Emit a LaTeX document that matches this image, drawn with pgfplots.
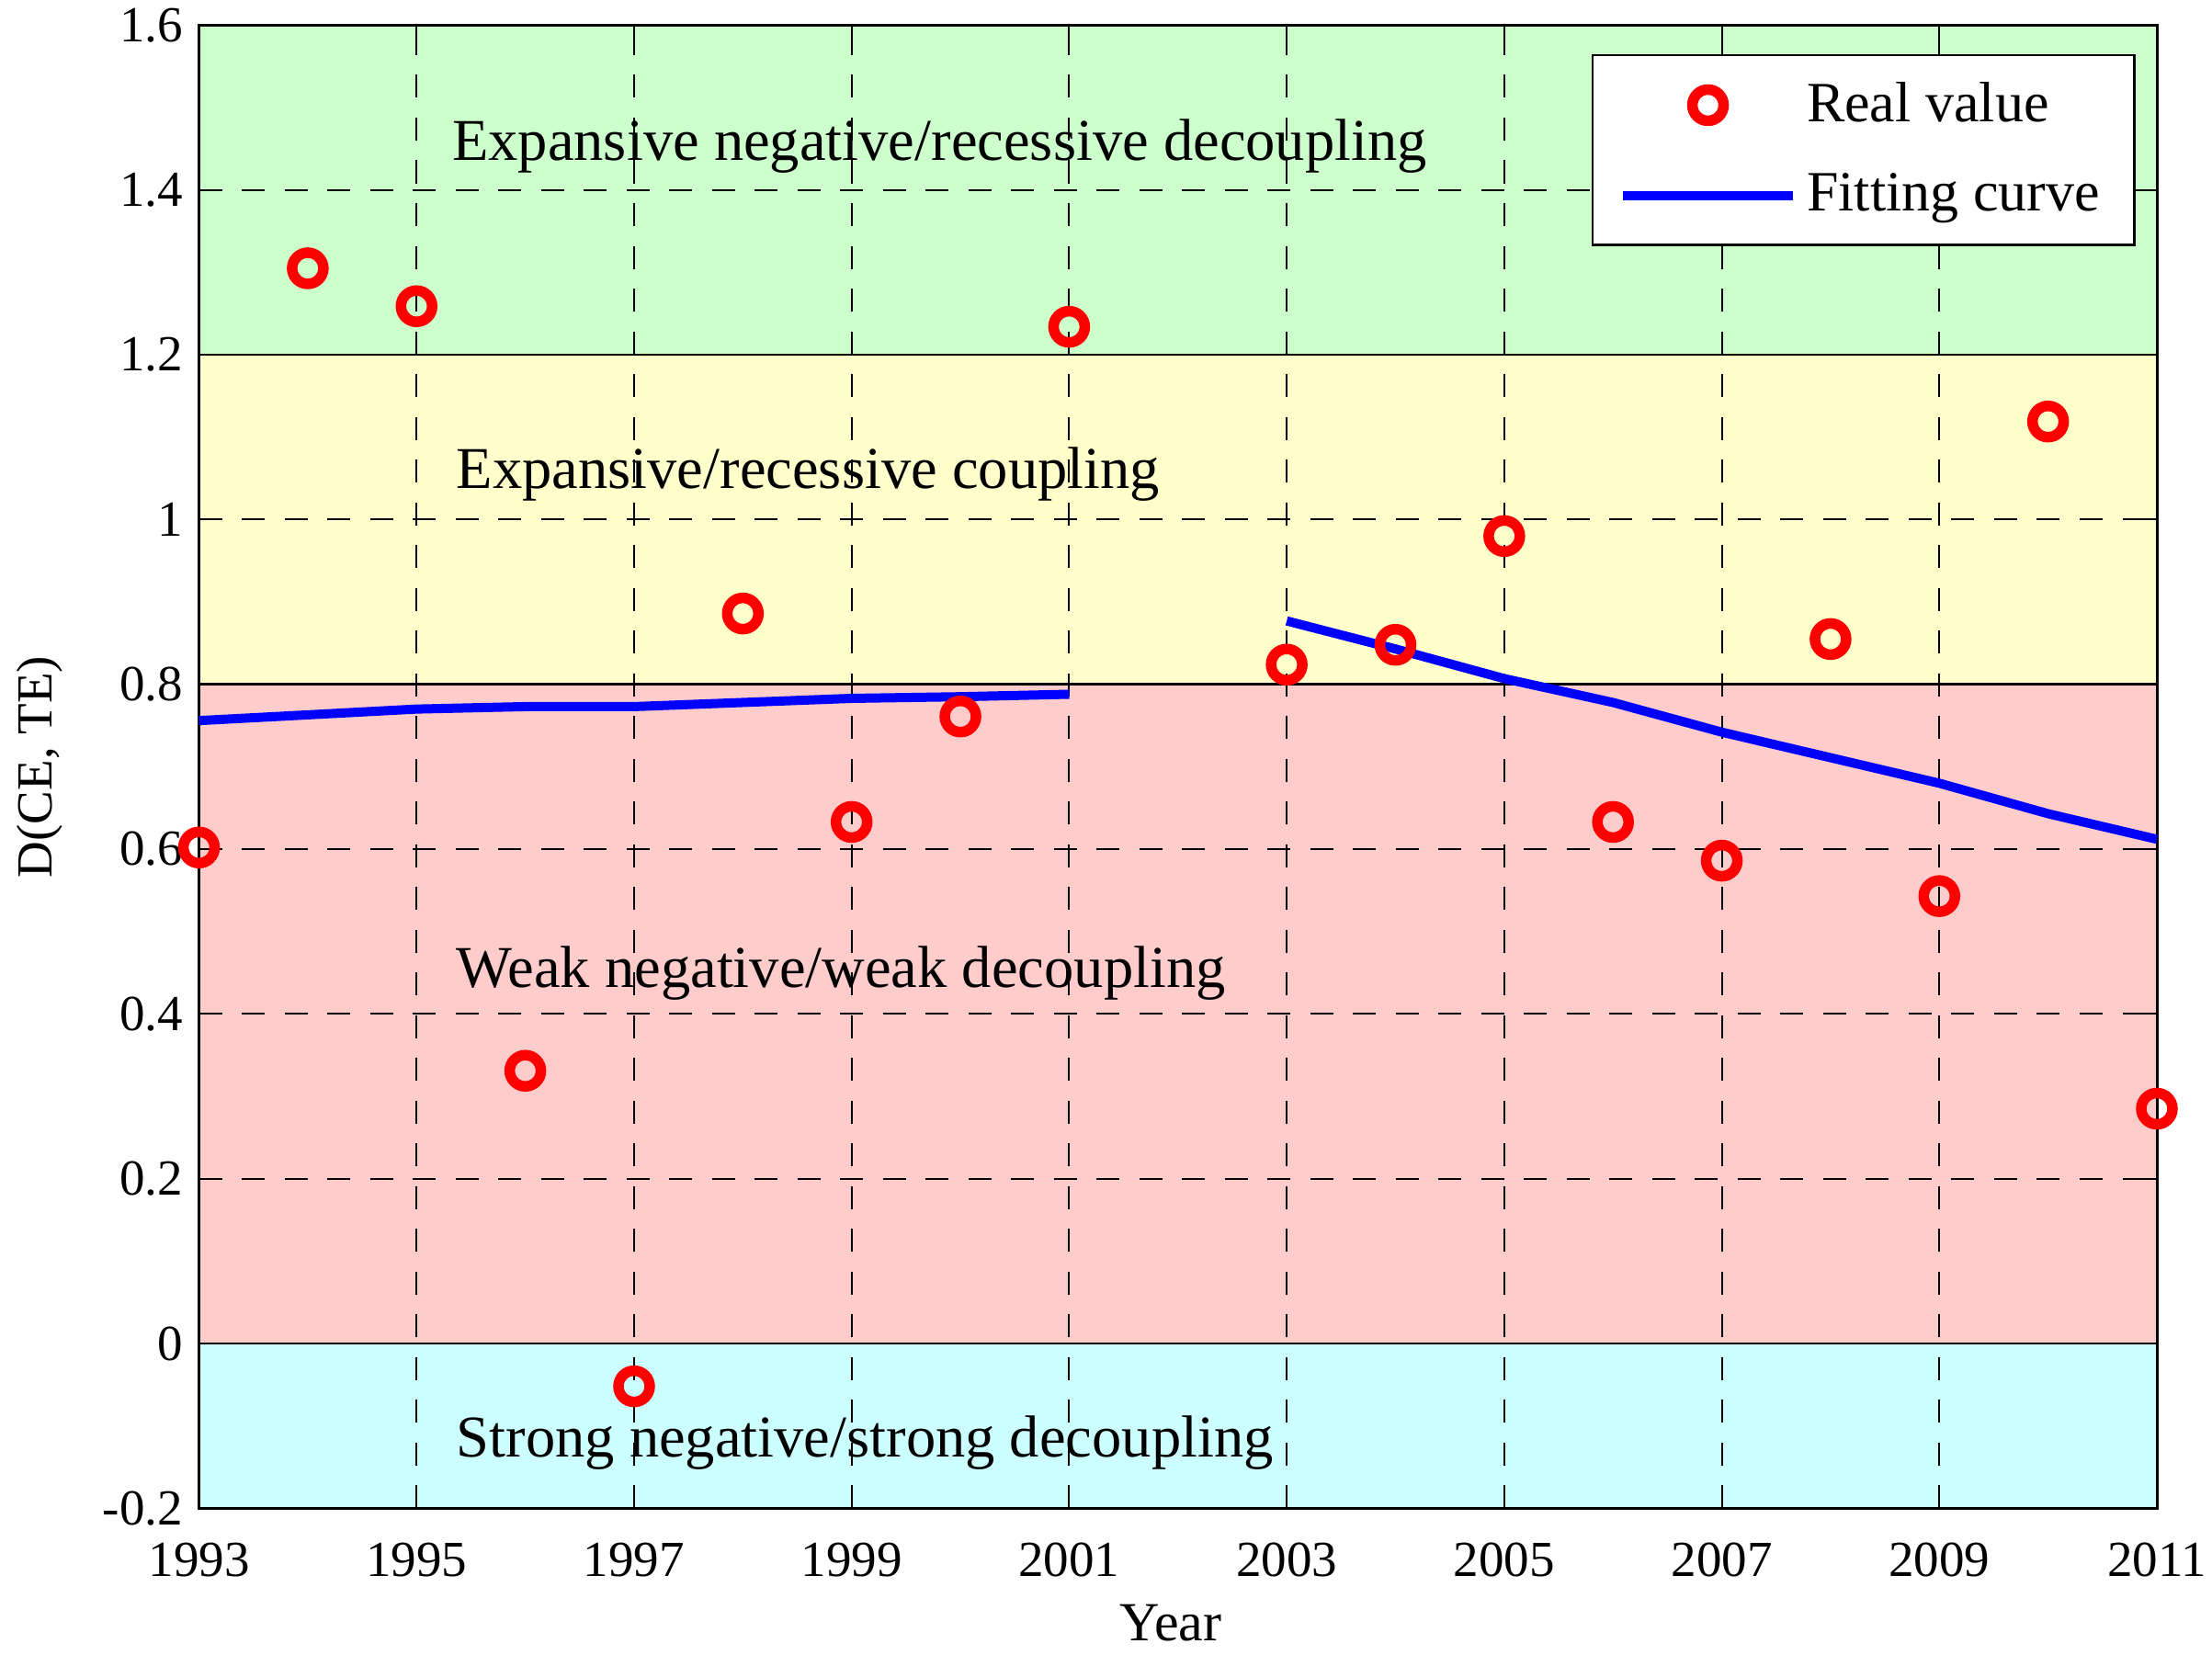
\documentclass[border=0pt]{standalone}
\usepackage{fontspec}
\setmainfont{Liberation Serif}
\usepackage{pgfplots}
\pgfplotsset{compat=1.18}
\definecolor{bandgreen}{RGB}{204,255,204}
\definecolor{bandyellow}{RGB}{255,255,204}
\definecolor{bandpink}{RGB}{255,204,204}
\definecolor{bandcyan}{RGB}{204,255,255}
\pgfplotsset{
  band/.style={on layer=axis background, draw=none, forget plot},
  edge/.style={on layer=axis background, black, line width=0.5pt, forget plot},
}
\tikzset{bandlabel/.style={anchor=west, inner sep=0pt, font=\fontsize{12.9}{15}\selectfont}}

\begin{document}
\begin{tikzpicture}
\begin{axis}[
  set layers,
  scale only axis,
  width=426pt, height=322.7pt,
  xmin=1993, xmax=2011,
  ymin=-0.2, ymax=1.6,
  xtick={1993,1995,1997,1999,2001,2003,2005,2007,2009,2011},
  xticklabels={1993,1995,1997,1999,2001,2003,2005,2007,2009,2011},
  ytick={-0.2,0,0.2,0.4,0.6,0.8,1,1.2,1.4,1.6},
  yticklabels={-0.2,0,0.2,0.4,0.6,0.8,1,1.2,1.4,1.6},
  tick align=inside,
  tick style={black, line width=0.4pt},
  axis line style={line width=0.6pt},
  grid=major,
  major grid style={black, line width=0.4pt, dash pattern=on 5pt off 4.3pt},
  tick label style={font=\fontsize{11}{13}\selectfont},
  xticklabel style={anchor=center, yshift=-11.2pt},
  xlabel={Year},
  ylabel={D(CE, TE)},
  xlabel style={font=\fontsize{12}{14}\selectfont, at={(axis description cs:0.5,0)}, anchor=center, yshift=-25pt, xshift=-1.5pt},
  ylabel style={font=\fontsize{11}{13}\selectfont, at={(axis description cs:-0.0815,0.5)}, anchor=center},
  clip=false,
  legend style={at={(axis description cs:0.9892,0.9805)}, anchor=north east,
    draw=black, line width=0.5pt, fill=white,
    font=\fontsize{12.4}{14}\selectfont,
    inner xsep=5.6pt, inner ysep=3.8pt, row sep=5.8pt,
    nodes={inner xsep=2pt}},
  legend cell align=left,
]
% coloured bands
\addplot[band, fill=bandgreen]
  coordinates {(1993,1.2) (2011,1.2) (2011,1.6) (1993,1.6)} -- cycle;
\addplot[band, fill=bandyellow]
  coordinates {(1993,0.8) (2011,0.8) (2011,1.2) (1993,1.2)} -- cycle;
\addplot[band, fill=bandpink]
  coordinates {(1993,0) (2011,0) (2011,0.8) (1993,0.8)} -- cycle;
\addplot[band, fill=bandcyan]
  coordinates {(1993,-0.2) (2011,-0.2) (2011,0) (1993,0)} -- cycle;
\addplot[edge] coordinates {(1993,1.2) (2011,1.2)};
\addplot[edge] coordinates {(1993,0.8) (2011,0.8)};
\addplot[edge] coordinates {(1993,0) (2011,0)};

% real values
\addplot[only marks, mark=o, red, mark size=3.4pt, line width=2.3pt,
  legend image code/.code={%
    \path[draw=none] (0pt,0pt) -- (37pt,0pt);
    \draw[red, line width=2.3pt, mark size=3.4pt] plot[only marks, mark=o] coordinates {(18.5pt,0pt)};}]
  coordinates {
  (1993,0.602) (1994,1.305) (1995,1.259) (1996,0.331) (1997,-0.052)
  (1998,0.886) (1999,0.633) (2000,0.761) (2001,1.234)
  (2003,0.824) (2004,0.848) (2005,0.980) (2006,0.633) (2007,0.586)
  (2008,0.855) (2009,0.543) (2010,1.119) (2011,0.285)};
\addlegendentry{Real value}

% fitting curves
\addplot[blue, line width=2pt, mark=none,
  legend image code/.code={%
    \draw[blue, line width=2pt] (0pt,0pt) -- (37pt,0pt);}]
  coordinates {
  (1993,0.756) (1994,0.763) (1995,0.770) (1996,0.773) (1997,0.773)
  (1998,0.778) (1999,0.783) (2000,0.785) (2001,0.788)};
\addlegendentry{Fitting curve}
\addplot[blue, line width=2pt, mark=none, forget plot]
  coordinates {
  (2003,0.877) (2004,0.843) (2005,0.807) (2006,0.778) (2007,0.742)
  (2008,0.711) (2009,0.680) (2010,0.643) (2011,0.612)};

% band labels
\node[bandlabel] at (axis cs:1995.32,1.453) {Expansive negative/recessive decoupling};
\node[bandlabel] at (axis cs:1995.36,1.055) {Expansive/recessive coupling};
\node[bandlabel] at (axis cs:1995.36,0.449) {Weak negative/weak decoupling};
\node[bandlabel] at (axis cs:1995.36,-0.121) {Strong negative/strong decoupling};
\end{axis}
\pgfresetboundingbox
\path[use as bounding box] ([xshift=-43.3pt,yshift=-31.8pt]current axis.south west) rectangle ([xshift=12pt,yshift=5.5pt]current axis.north east);
\end{tikzpicture}
\end{document}
